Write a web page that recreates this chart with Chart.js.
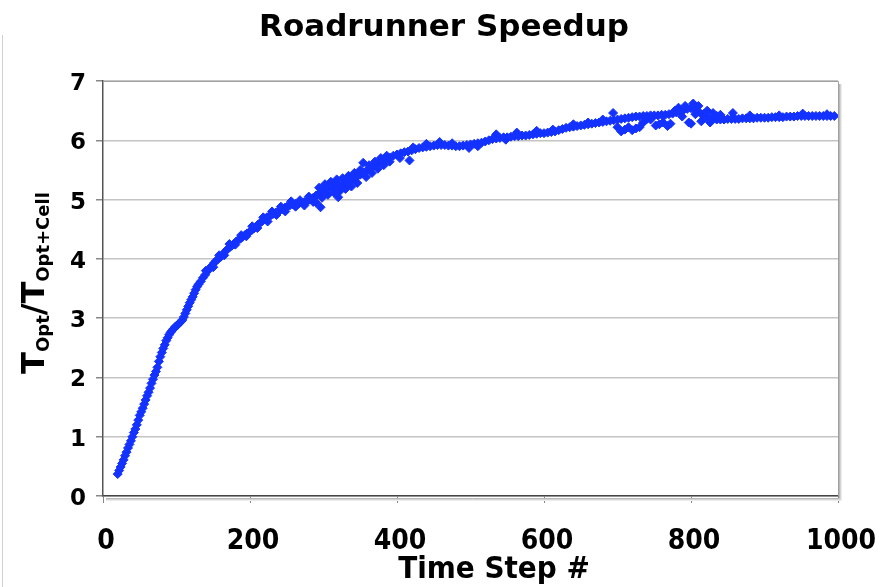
<!DOCTYPE html>
<html>
<head>
<meta charset="utf-8">
<script src="https://cdn.jsdelivr.net/npm/chart.js@4.4.1/dist/chart.umd.min.js"></script>
<style>
  body { margin: 0; background: #fff; }
  #wrap { width: 892px; height: 587px; }
</style>
</head>
<body>
<div id="wrap"><canvas id="speedupChart" width="892" height="587"></canvas></div>
<script>
// time steps and measured speedup (main trace)
const steps = [
  20,22,24,26,28,30,32,34,36,38,40,42,44,46,48,50,52,54,56,58,60,62,64,66,68,70,72,74,76,78,
  80,82,84,86,88,90,92,94,96,98,100,102,104,106,108,110,112,114,116,118,120,122,124,126,128,130,
  133,136,139,142,145,148,151,154,157,160,163,166,169,172,175,178,181,184,187,190,193,196,199,
  202,205,208,211,214,217,220,223,226,229,232,235,238,241,244,247,250,
  254,258,262,266,270,274,278,282,286,290,294,298,302,306,310,314,318,322,326,330,334,338,342,
  346,350,354,358,362,366,370,374,378,382,386,390,
  395,400,405,410,415,420,425,430,435,440,445,450,455,460,465,470,475,480,485,490,495,500,
  505,510,515,520,525,530,535,540,545,550,555,560,565,570,575,580,585,590,595,600,
  605,610,615,620,625,630,635,640,645,650,655,660,665,670,675,680,685,690,695,700,
  705,710,715,720,725,730,735,740,745,750,755,760,765,770,775,780,785,790,795,800,
  805,810,815,820,825,830,835,840,845,850,855,860,865,870,875,880,885,890,895,900,
  905,910,915,920,925,930,935,940,945,950,955,960,965,970,975,980,985,990,995,1000
];
const speedup = [
  0.37,0.43,0.49,0.55,0.61,0.68,0.74,0.81,0.87,0.93,1.00,1.07,1.13,1.20,1.28,1.36,1.42,1.48,1.55,1.62,
  1.69,1.75,1.82,1.90,1.97,2.04,2.10,2.17,2.27,2.35,2.42,2.49,2.55,2.62,2.67,2.72,2.76,2.79,2.82,2.85,
  2.87,2.89,2.92,2.94,2.97,3.02,3.08,3.14,3.20,3.26,3.31,3.36,3.42,3.48,3.53,3.57,
  3.62,3.68,3.73,3.79,3.84,3.88,3.93,3.97,4.00,4.03,4.07,4.12,4.16,4.19,4.22,4.25,4.29,4.32,4.34,4.37,
  4.40,4.43,4.45,4.48,4.51,4.54,4.58,4.61,4.64,4.67,4.70,4.72,4.74,4.76,4.78,4.80,4.82,4.84,4.86,4.88,
  4.90,4.92,4.93,4.93,4.95,4.96,4.97,5.00,5.03,5.07,5.10,5.14,5.17,5.19,5.21,5.22,5.23,5.24,5.25,5.27,
  5.30,5.33,5.36,5.39,5.42,5.45,5.48,5.51,5.54,5.58,5.61,5.64,5.67,5.69,5.71,
  5.74,5.76,5.78,5.80,5.81,5.83,5.85,5.87,5.88,5.89,5.90,5.91,5.92,5.92,5.92,5.91,5.91,5.90,5.90,5.91,
  5.92,5.93,5.94,5.95,5.96,5.98,6.00,6.02,6.03,6.04,6.05,6.05,6.06,6.07,6.07,6.08,6.08,6.09,6.10,6.11,
  6.12,6.12,6.13,6.14,6.15,6.17,6.19,6.21,6.22,6.23,6.24,6.25,6.26,6.27,6.28,6.29,6.30,6.31,6.32,6.33,
  6.34,6.35,6.36,6.37,6.38,6.39,6.40,6.40,6.41,6.41,6.42,6.42,6.42,6.43,6.43,6.44,6.45,6.47,6.49,6.51,
  6.53,6.54,6.53,6.49,6.43,6.39,6.37,6.36,6.35,6.35,6.35,6.36,6.36,6.36,6.36,6.37,6.37,6.37,6.37,6.38,
  6.38,6.38,6.38,6.39,6.39,6.39,6.39,6.40,6.40,6.40,6.41,6.41,6.41,6.41,6.41,6.41,6.41,6.41,6.41,6.41,6.41
];

// scattered runs that spread around the main trace
const noiseSteps = [
  140,150,158,165,172,180,188,195,203,210,218,224,230,236,242,248,256,262,268,274,280,286,
  290,294,296,298,302,306,310,314,318,320,322,326,330,334,338,342,346,350,354,358,362,366,370,374,378,382,386,390,
  404,417,422,440,458,475,498,510,535,548,563,590,612,640,660,680,
  694,700,705,710,715,720,725,730,735,740,745,752,757,762,768,772,778,783,788,792,797,800,
  803,806,810,814,818,822,826,830,835,840,857,880,920,952,985
];
const noiseSpeedup = [
  3.80,3.86,4.06,4.06,4.25,4.24,4.40,4.38,4.55,4.52,4.70,4.63,4.80,4.74,4.88,4.80,4.97,4.88,4.99,4.90,5.05,4.96,
  4.95,5.20,4.87,5.03,5.26,5.08,5.30,5.12,5.34,5.04,5.14,5.36,5.18,5.40,5.22,5.45,5.28,5.50,5.62,5.38,5.58,5.45,5.64,5.52,5.70,5.58,5.74,5.64,
  5.70,5.66,5.88,5.94,5.97,5.95,5.87,5.90,6.10,6.01,6.13,6.16,6.18,6.27,6.30,6.35,
  6.46,6.22,6.15,6.18,6.22,6.17,6.20,6.22,6.30,6.36,6.35,6.25,6.27,6.30,6.24,6.28,6.50,6.55,6.40,6.58,6.30,6.28,
  6.62,6.44,6.58,6.32,6.45,6.50,6.30,6.46,6.41,6.43,6.46,6.42,6.42,6.45,6.44
];

const xTicks = [0, 200, 400, 600, 800, 1000];
const yTicks = [0, 1, 2, 3, 4, 5, 6, 7];

const points = steps.map((s, i) => ({ x: s, y: speedup[i] }))
  .concat(noiseSteps.map((s, i) => ({ x: s, y: noiseSpeedup[i] })));

const blue = '#1432ff';

// narrow bold text (the reference uses a condensed face)
function narrowText(ctx, text, x, y, size, squeeze) {
  ctx.save();
  ctx.font = `bold ${size}px 'DejaVu Sans'`;
  ctx.textAlign = 'center';
  ctx.textBaseline = 'alphabetic';
  ctx.translate(x, y);
  ctx.scale(squeeze, 1);
  ctx.fillText(text, 0, 0);
  ctx.restore();
}

// draws the title, the axis titles, tick labels and the plot frame
const decorations = {
  id: 'decorations',
  afterDraw(chart) {
    const ctx = chart.ctx;
    const a = chart.chartArea;
    ctx.save();

    // faint edge line on the left of the picture
    ctx.strokeStyle = '#d0d0d0';
    ctx.lineWidth = 1;
    ctx.beginPath();
    ctx.moveTo(2.5, 35);
    ctx.lineTo(2.5, 587);
    ctx.stroke();

    // frame: top + right border with a soft shadow
    ctx.strokeStyle = '#a0a0a0';
    ctx.beginPath();
    ctx.moveTo(a.left, a.top + 0.5);
    ctx.lineTo(a.right + 0.5, a.top + 0.5);
    ctx.lineTo(a.right + 0.5, a.bottom);
    ctx.stroke();
    const shadows = ['#b8b8b8', '#d4d4d4', '#ececec'];
    shadows.forEach((c, i) => {
      ctx.strokeStyle = c;
      ctx.beginPath();
      ctx.moveTo(a.right + 1.5 + i, a.top + 3);
      ctx.lineTo(a.right + 1.5 + i, a.bottom + 2.5 + i);
      ctx.lineTo(a.left + 3, a.bottom + 2.5 + i);
      ctx.stroke();
    });

    ctx.fillStyle = '#000';

    // x tick labels
    const xs = chart.scales.x;
    xs.ticks.forEach(t => {
      narrowText(ctx, String(t.value), xs.getPixelForValue(t.value) + 3, 549, 28, 0.9);
    });

    // y tick labels
    const ys = chart.scales.y;
    ctx.font = "bold 23px 'DejaVu Sans'";
    ctx.textAlign = 'right';
    ctx.textBaseline = 'alphabetic';
    ys.ticks.forEach(t => {
      ctx.fillText(String(t.value), 86, ys.getPixelForValue(t.value) + 9);
    });

    // x title
    narrowText(ctx, 'Time Step #', 494, 578, 31, 0.9);

    // main title
    ctx.font = "bold 31px 'DejaVu Sans'";
    ctx.textAlign = 'center';
    ctx.fillText('Roadrunner Speedup', 444, 36);

    // y title with subscripts, rotated
    const parts = [
      { t: 'T', size: 32, shift: 0 },
      { t: 'Opt', size: 18, shift: 5 },
      { t: '/', size: 32, shift: 0 },
      { t: 'T', size: 32, shift: 0 },
      { t: 'Opt+Cell', size: 18, shift: 5 }
    ];
    let total = 0;
    parts.forEach(p => {
      ctx.font = `bold ${p.size}px 'DejaVu Sans'`;
      p.w = ctx.measureText(p.t).width;
      total += p.w;
    });
    ctx.translate(44, 283);
    ctx.rotate(-Math.PI / 2);
    ctx.textAlign = 'left';
    let x = -total / 2;
    parts.forEach(p => {
      ctx.font = `bold ${p.size}px 'DejaVu Sans'`;
      ctx.fillText(p.t, x, p.shift);
      x += p.w;
    });
    ctx.restore();
  }
};

new Chart(document.getElementById('speedupChart').getContext('2d'), {
  type: 'scatter',
  data: {
    datasets: [{
      label: 'Speedup',
      data: points,
      backgroundColor: blue,
      borderColor: blue,
      borderWidth: 1,
      pointStyle: 'rectRot',
      pointRadius: 4.5,
      pointHoverRadius: 4.5
    }]
  },
  options: {
    responsive: false,
    animation: false,
    devicePixelRatio: 1,
    layout: { padding: { top: 81, right: 54, left: 0, bottom: 0 } },
    plugins: { legend: { display: false }, tooltip: { enabled: false } },
    scales: {
      x: {
        type: 'linear',
        min: 0,
        max: 1000,
        afterBuildTicks: s => { s.ticks = xTicks.map(v => ({ value: v })); },
        afterFit: s => { s.height = 91; },
        ticks: { display: false },
        grid: { drawOnChartArea: false, drawTicks: true, tickLength: 7, tickColor: '#888' },
        border: { color: '#444', width: 1.5 }
      },
      y: {
        min: 0,
        max: 7,
        afterBuildTicks: s => { s.ticks = yTicks.map(v => ({ value: v })); },
        afterFit: s => { s.width = 103; },
        ticks: { display: false },
        grid: { color: '#c4c4c4', lineWidth: 1.5, tickLength: 7, tickColor: '#888' },
        border: { color: '#555', width: 1.5 }
      }
    }
  },
  plugins: [decorations]
});
</script>
</body>
</html>
